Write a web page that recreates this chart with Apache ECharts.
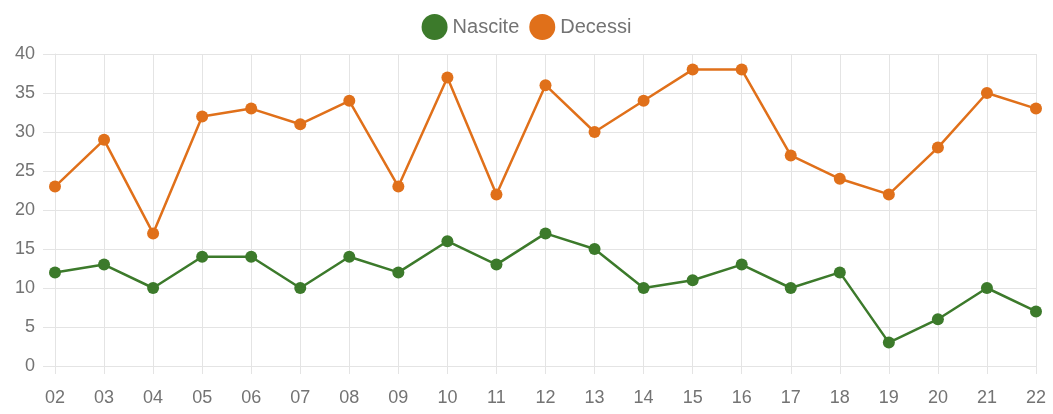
<!DOCTYPE html>
<html>
<head>
<meta charset="utf-8">
<script src="https://cdn.jsdelivr.net/npm/echarts@6/dist/echarts.min.js"></script>
<style>
  html, body { margin: 0; padding: 0; background: #ffffff; }
  #chart { width: 1053px; height: 414px; }
</style>
</head>
<body>
<div id="chart"></div>
<script>
// Giorni del mese
const categories = ['02','03','04','05','06','07','08','09','10','11','12','13','14','15','16','17','18','19','20','21','22'];
// Nascite per giorno
const nascite = [12,13,10,14,14,10,14,12,16,13,17,15,10,11,13,10,12,3,6,10,7];
// Decessi per giorno
const decessi = [23,29,17,32,33,31,34,23,37,22,36,30,34,38,38,27,24,22,28,35,33];

const gridColor = '#e4e4e4';
const textColor = '#737373';
const font = '"Liberation Sans", Arial, sans-serif';

const chart = echarts.init(document.getElementById('chart'), null, { renderer: 'canvas' });

function lineSeries(name, data, color) {
  return {
    name: name,
    type: 'line',
    data: data,
    symbol: 'circle',
    symbolSize: 12,
    lineStyle: { color: color, width: 2.5 },
    itemStyle: { color: color },
    emphasis: { disabled: true },
    animation: false
  };
}

chart.setOption({
  animation: false,
  legend: {
    top: 9,
    left: 'center',
    icon: 'circle',
    itemWidth: 26,
    itemHeight: 26,
    itemGap: 10,
    textStyle: { color: textColor, fontSize: 20, fontFamily: font, fontWeight: 'normal' },
    data: ['Nascite', 'Decessi']
  },
  grid: { left: 55, right: 17, top: 54, bottom: 48, containLabel: false },
  xAxis: {
    type: 'category',
    data: categories,
    boundaryGap: false,
    axisLine: { show: true, lineStyle: { color: gridColor } },
    axisTick: { show: true, length: 8, lineStyle: { color: gridColor } },
    axisLabel: { color: textColor, fontSize: 18, fontFamily: font, margin: 23 },
    splitLine: { show: true, lineStyle: { color: gridColor } }
  },
  yAxis: {
    type: 'value',
    min: 0,
    max: 40,
    interval: 5,
    axisLine: { show: true, lineStyle: { color: gridColor } },
    axisTick: { show: true, length: 12, lineStyle: { color: gridColor } },
    axisLabel: { color: textColor, fontSize: 18, fontFamily: font, margin: 20 },
    splitLine: { show: true, lineStyle: { color: gridColor } }
  },
  series: [
    lineSeries('Nascite', nascite, '#3c7a2b'),
    lineSeries('Decessi', decessi, '#e0701a')
  ]
});
</script>
</body>
</html>
